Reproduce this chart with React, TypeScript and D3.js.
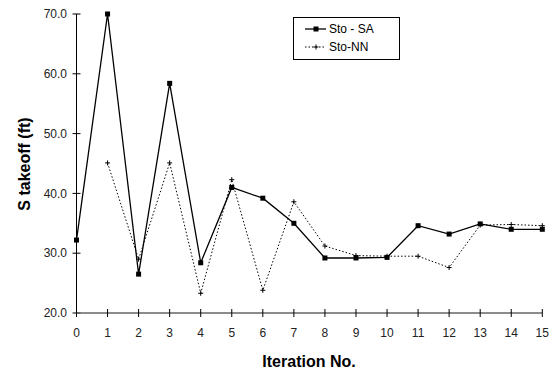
import React from "react";
import * as d3 from "d3";

const iterations = [0, 1, 2, 3, 4, 5, 6, 7, 8, 9, 10, 11, 12, 13, 14, 15];
const stoSA = [32.2, 70.0, 26.5, 58.4, 28.4, 41.0, 39.2, 35.0, 29.2, 29.2, 29.3, 34.6, 33.2, 34.9, 34.0, 34.0];
const stoNNIter = [1, 2, 3, 4, 5, 6, 7, 8, 9, 10, 11, 12, 13, 14, 15];
const stoNN = [45.1, 29.0, 45.1, 23.3, 42.3, 23.8, 38.6, 31.2, 29.6, 29.5, 29.5, 27.6, 34.7, 34.8, 34.6];
const yTicks = [20, 30, 40, 50, 60, 70];
const seriesNames = ["Sto - SA", "Sto-NN"];

export default function App() {
  const W = 552, H = 371;
  const x = d3.scaleLinear().domain([0, 15]).range([76.5, 542.3]);
  const y = d3.scaleLinear().domain([20, 70]).range([313, 14]);
  const line = d3.line<[number, number]>().x(d => x(d[0])).y(d => y(d[1]));
  const saPts: [number, number][] = iterations.map((it, i) => [it, stoSA[i]]);
  const nnPts: [number, number][] = stoNNIter.map((it, i) => [it, stoNN[i]]);
  const font = "Liberation Sans, Arial, sans-serif";
  return (
    <svg width={W} height={H} style={{ position: "absolute", left: 0, top: 0, background: "#fff" }} fontFamily={font}>
      <rect width={W} height={H} fill="#fff" />
      {/* y axis */}
      <line x1={x(0)} x2={x(0)} y1={y(70)} y2={y(20)} stroke="#000" strokeWidth={1} />
      {yTicks.map(t => (
        <g key={t}>
          <line x1={x(0) - 4} x2={x(0) + 4} y1={y(t)} y2={y(t)} stroke="#000" />
          <text x={67} y={y(t)} dy="0.35em" textAnchor="end" fontSize={12} fill="#222">{t.toFixed(1)}</text>
        </g>
      ))}
      {/* x axis */}
      <line x1={x(0)} x2={x(15)} y1={y(20)} y2={y(20)} stroke="#666" strokeWidth={1.6} />
      {iterations.map(t => (
        <g key={t}>
          <line x1={x(t)} x2={x(t)} y1={y(20) - 4} y2={y(20) + 4} stroke="#000" />
          <text x={x(t)} y={337} textAnchor="middle" fontSize={12} fill="#222">{t}</text>
        </g>
      ))}
      {/* NN series */}
      <path d={line(nnPts) || ""} fill="none" stroke="#000" strokeWidth={1} strokeDasharray="1.5 2" />
      {nnPts.map((p, i) => (
        <g key={i} stroke="#000" strokeWidth={1}>
          <line x1={x(p[0]) - 2.5} x2={x(p[0]) + 2.5} y1={y(p[1])} y2={y(p[1])} />
          <line x1={x(p[0])} x2={x(p[0])} y1={y(p[1]) - 2.5} y2={y(p[1]) + 2.5} />
        </g>
      ))}
      {/* SA series */}
      <path d={line(saPts) || ""} fill="none" stroke="#000" strokeWidth={1.3} />
      {saPts.map((p, i) => (
        <rect key={i} x={x(p[0]) - 2.5} y={y(p[1]) - 2.5} width={5} height={5} fill="#000" />
      ))}
      {/* legend */}
      <rect x={293.5} y={17.5} width={106} height={42} fill="#fff" stroke="#000" strokeWidth={1} />
      <line x1={305} x2={326} y1={29} y2={29} stroke="#000" strokeWidth={1.3} />
      <rect x={313.5} y={26.5} width={5} height={5} fill="#000" />
      <text x={329} y={29} dy="0.35em" fontSize={12} fill="#000">{seriesNames[0]}</text>
      <line x1={305} x2={326} y1={47} y2={47} stroke="#000" strokeWidth={1} strokeDasharray="1.5 2" />
      <line x1={313.5} x2={318.5} y1={47} y2={47} stroke="#000" />
      <line x1={316} x2={316} y1={44.5} y2={49.5} stroke="#000" />
      <text x={329} y={47} dy="0.35em" fontSize={12} fill="#000">{seriesNames[1]}</text>
      {/* axis titles */}
      <text x={309} y={367} textAnchor="middle" fontSize={16} fontWeight="bold" fill="#000">Iteration No.</text>
      <text transform="translate(30,164) rotate(-90)" textAnchor="middle" fontSize={16} fontWeight="bold" fill="#000">S takeoff (ft)</text>
    </svg>
  );
}
